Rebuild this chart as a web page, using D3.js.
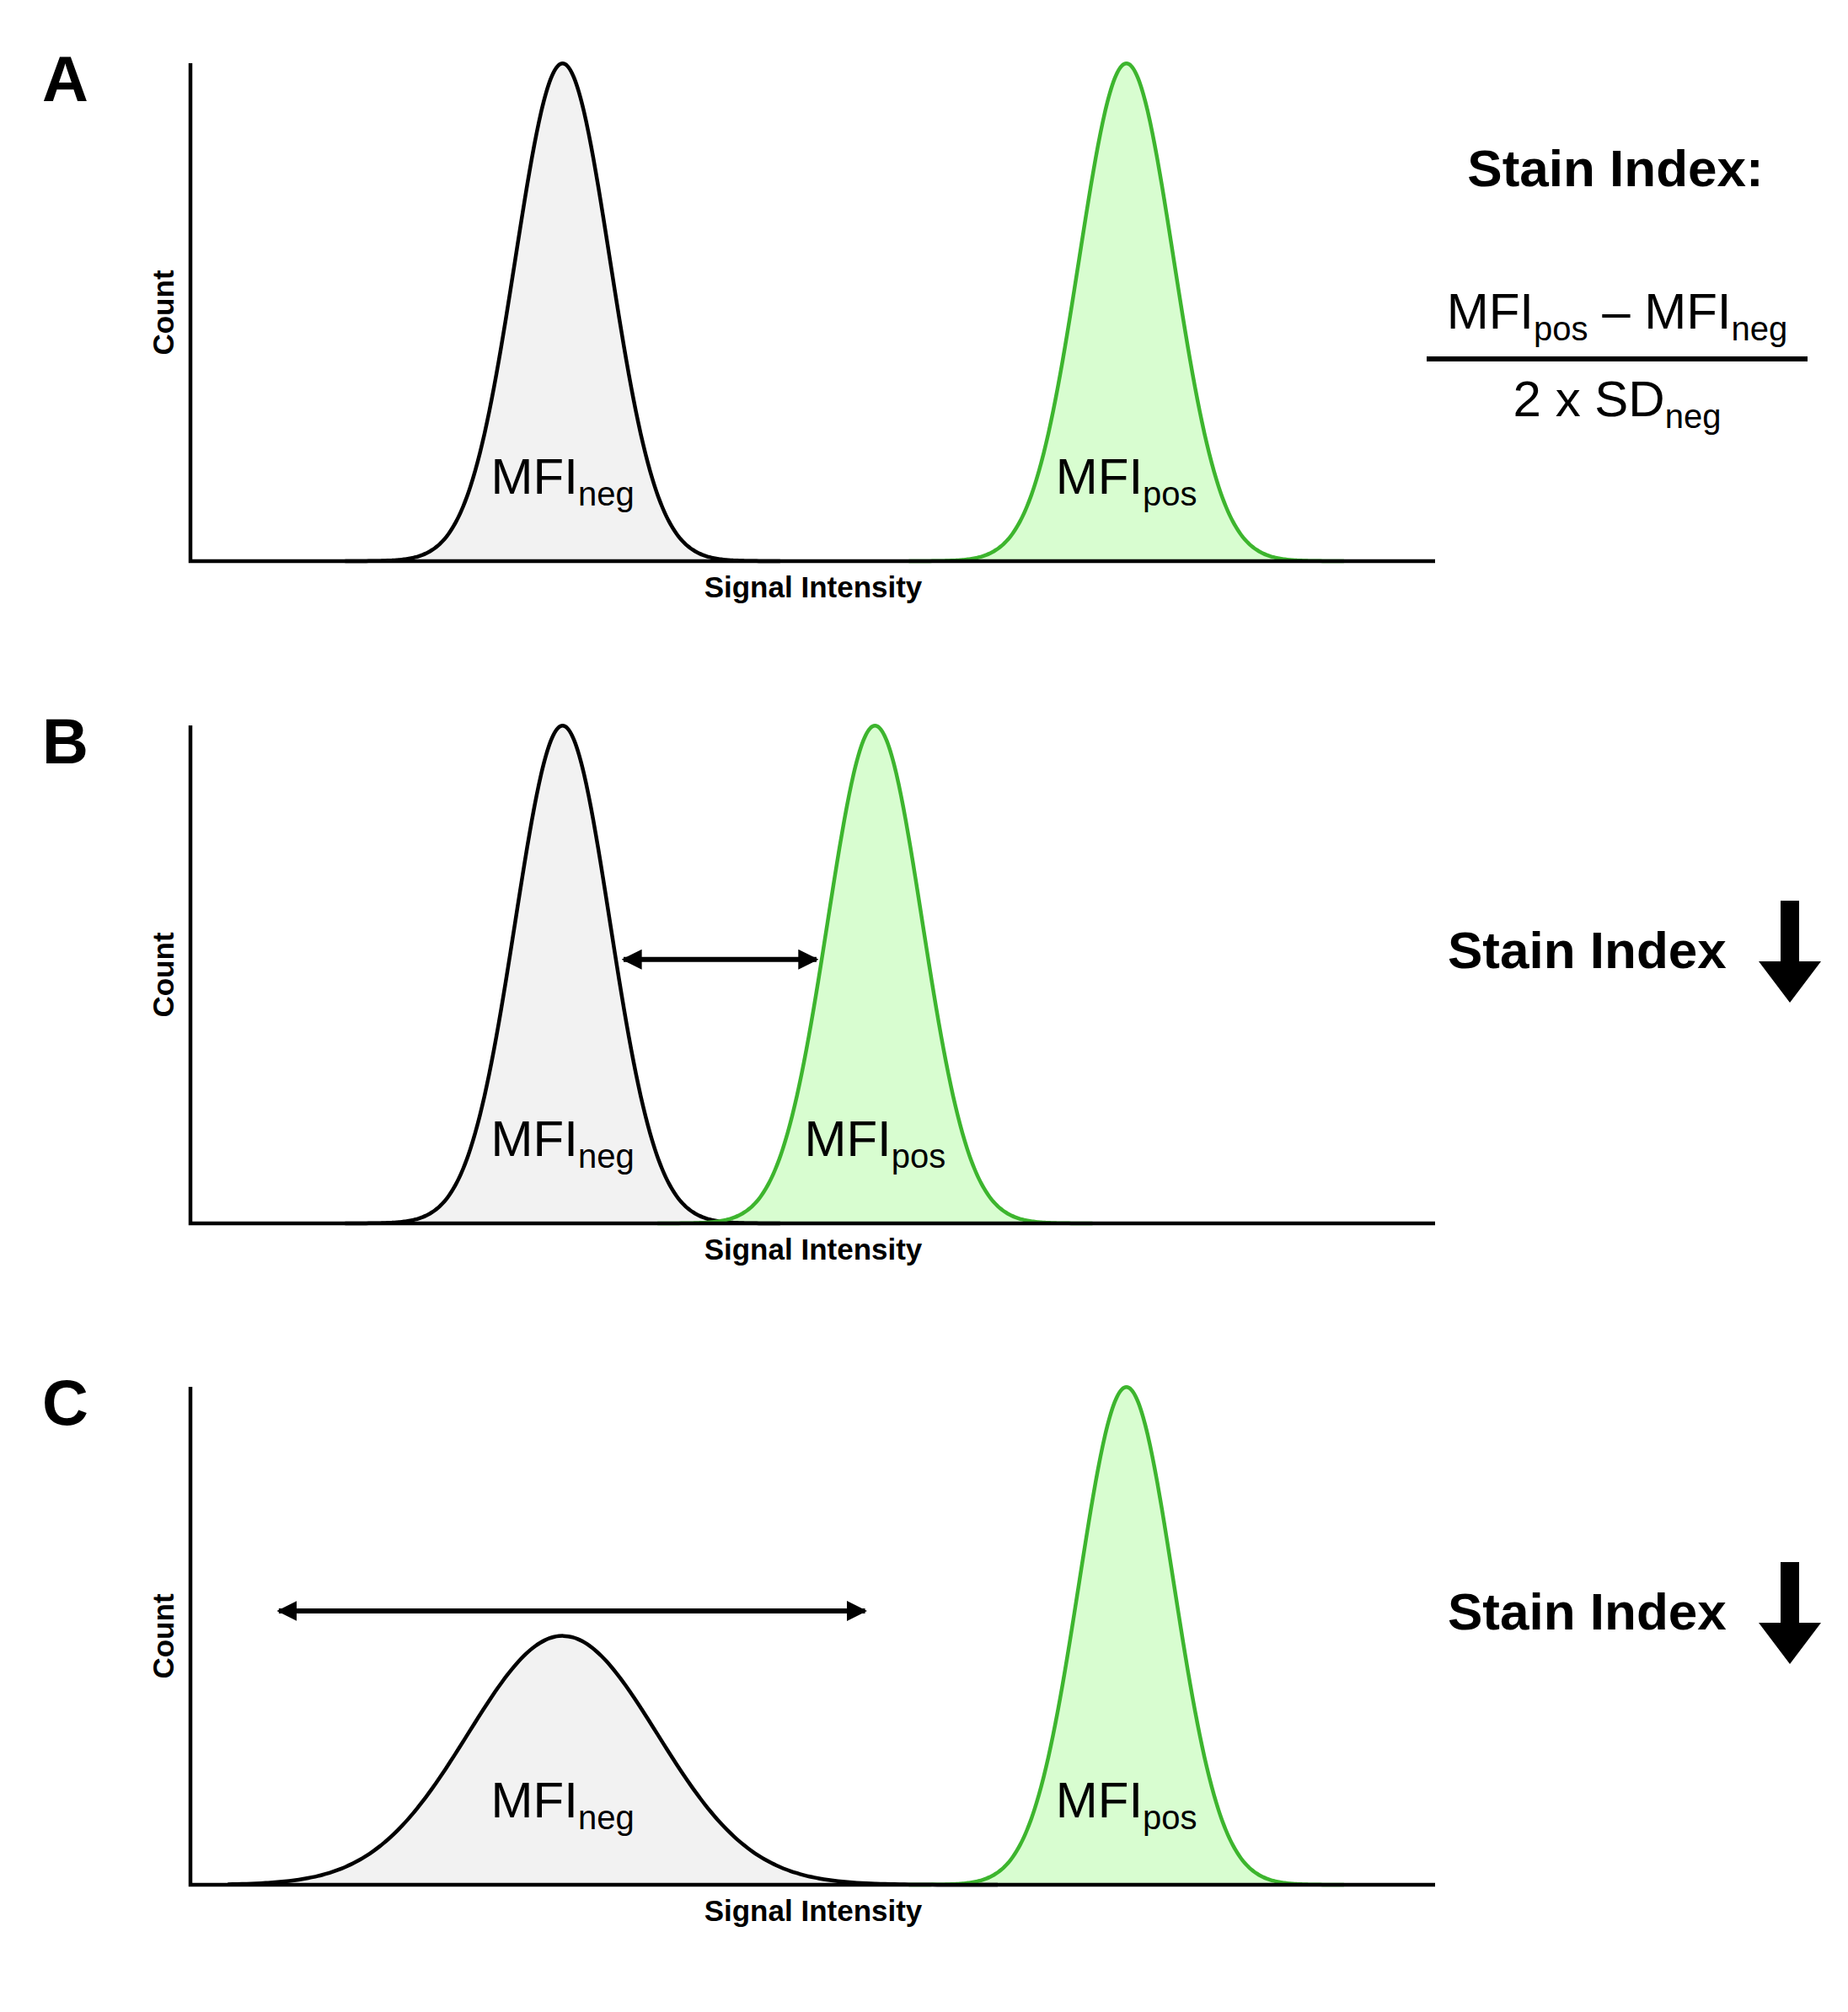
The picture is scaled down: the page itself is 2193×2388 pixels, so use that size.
<!DOCTYPE html>
<html><head><meta charset="utf-8">
<script src="https://cdn.jsdelivr.net/npm/d3@7"></script>
<style>body{margin:0;background:#fff}text{font-family:Arial,"Liberation Sans",sans-serif}</style>
</head><body><div class="grafico"></div>
<script>
// panels and their peaks (x in signal units 0-100, height relative to axis)
const panels = ['A', 'B', 'C'];
const negMean = [29.9, 29.9, 29.9];
const negSD = [3.8, 3.8, 7.6];
const negHeight = [1, 1, 0.5];
const posMean = [75.2, 55.0, 75.2];
const posSD = [3.8, 3.8, 3.8];
const posHeight = [1, 1, 1];
// double arrows (signal units, height) for B and C
const spread = [null, {x0: 34.8, x1: 50.3, y: 0.53}, {x0: 7.1, x1: 54.2, y: 0.55}];

const W = 2193, H = 2388;
const tops = [75, 861, 1646], ph = 591;
const x = d3.scaleLinear().domain([0, 100]).range([226, 1703]);

const svg = d3.select('.grafico').append('svg').attr('width', W).attr('height', H);
const defs = svg.append('defs');
defs.append('marker').attr('id', 'ah').attr('viewBox', '0 0 10 10').attr('refX', 9).attr('refY', 5)
  .attr('markerWidth', 4).attr('markerHeight', 4).attr('orient', 'auto-start-reverse').attr('markerUnits', 'strokeWidth')
  .append('path').attr('d', 'M0,0L10,5L0,10z').attr('fill', '#000');

const gauss = (m, s, h) => {
  const lo = Math.max(m - 4.6 * s, 3), hi = m + 4.6 * s;
  return d3.range(lo, hi, s / 20).concat([hi])
    .map(v => [v, h * Math.exp(-0.5 * ((v - m) / s) ** 2)]);
};

panels.forEach((p, i) => {
  const top = tops[i];
  const y = d3.scaleLinear().domain([0, 1]).range([top + ph, top]);
  const g = svg.append('g');
  const area = d3.area().x(d => x(d[0])).y0(y(0)).y1(d => y(d[1])).curve(d3.curveBasis);
  const line = d3.line().x(d => x(d[0])).y(d => y(d[1])).curve(d3.curveBasis);
  const neg = gauss(negMean[i], negSD[i], negHeight[i]);
  const pos = gauss(posMean[i], posSD[i], posHeight[i]);
  g.append('path').attr('d', area(neg)).attr('fill', '#f2f2f2');
  g.append('path').attr('d', area(pos)).attr('fill', '#d8fdd0');
  g.append('path').attr('d', line(neg)).attr('fill', 'none').attr('stroke', '#000').attr('stroke-width', 4.5);
  g.append('path').attr('d', line(pos)).attr('fill', 'none').attr('stroke', '#3db52e').attr('stroke-width', 4.5);

  g.append('path').attr('d', `M${x(0)},${y(1)}V${y(0)}H${x(100)}`).attr('fill', 'none').attr('stroke', '#000').attr('stroke-width', 4.5);

  g.append('text').attr('x', 50).attr('y', top + 45).attr('font-size', 76).attr('font-weight', 'bold').text(p);
  g.append('text').attr('transform', `translate(206,${top + 296}) rotate(-90)`).attr('text-anchor', 'middle')
    .attr('font-size', 35).attr('font-weight', 'bold').text('Count');
  g.append('text').attr('x', 965).attr('y', top + ph + 43).attr('text-anchor', 'middle')
    .attr('font-size', 35).attr('font-weight', 'bold').text('Signal Intensity');

  const mfi = (cx, sub) => {
    const t = g.append('text').attr('x', cx).attr('y', top + 511).attr('text-anchor', 'middle').attr('font-size', 60);
    t.append('tspan').text('MFI');
    t.append('tspan').attr('font-size', 40).attr('dy', 14).text(sub);
  };
  mfi(x(negMean[i]), 'neg');
  mfi(x(posMean[i]), 'pos');

  if (spread[i]) {
    const s = spread[i];
    g.append('line').attr('x1', x(s.x0)).attr('x2', x(s.x1)).attr('y1', y(s.y)).attr('y2', y(s.y))
      .attr('stroke', '#000').attr('stroke-width', 6)
      .attr('marker-start', 'url(#ah)').attr('marker-end', 'url(#ah)');
    g.append('text').attr('x', 1718).attr('y', top + 288).attr('font-size', 62).attr('font-weight', 'bold').text('Stain Index');
    g.append('path').attr('transform', `translate(2124,${top + 208})`)
      .attr('d', 'M-11,0H11V72H37L0,121L-37,72H-11Z').attr('fill', '#000');
  }
});

// formula
const f = svg.append('g');
f.append('text').attr('x', 1917).attr('y', 221).attr('text-anchor', 'middle').attr('font-size', 62).attr('font-weight', 'bold').text('Stain Index:');
const num = f.append('text').attr('x', 1919).attr('y', 390).attr('text-anchor', 'middle').attr('font-size', 60);
num.append('tspan').text('MFI');
num.append('tspan').attr('font-size', 40).attr('dy', 14).text('pos');
num.append('tspan').attr('dy', -14).text(' \u2013 MFI');
num.append('tspan').attr('font-size', 40).attr('dy', 14).text('neg');
f.append('line').attr('x1', 1693).attr('x2', 2145).attr('y1', 426).attr('y2', 426).attr('stroke', '#000').attr('stroke-width', 6);
const den = f.append('text').attr('x', 1919).attr('y', 494).attr('text-anchor', 'middle').attr('font-size', 60);
den.append('tspan').text('2 x SD');
den.append('tspan').attr('font-size', 40).attr('dy', 14).text('neg');
</script></body></html>
